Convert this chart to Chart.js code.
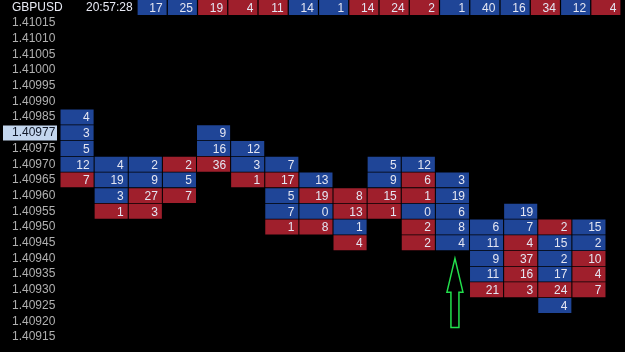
<!DOCTYPE html>
<html>
<head>
<meta charset="utf-8">
<script src="https://cdn.jsdelivr.net/npm/chart.js@4/dist/chart.umd.min.js"></script>
<style>
  body { margin: 0; background: #000; overflow: hidden; }
  #wrap { position: relative; width: 625px; height: 352px; }
  #main { position: absolute; left: 0; top: 0; }
  #head { position: absolute; left: 137px; top: 0; }
  .txt { position: absolute; top: 0; height: 15px; line-height: 15px; font: 12px "Liberation Sans", Arial, sans-serif; color: #e8eaf4; }
</style>
</head>
<body>
<div id="wrap">
  <canvas id="main" width="625" height="352"></canvas>
  <canvas id="head" width="484" height="15"></canvas>
  <div class="txt" style="left:12px">GBPUSD</div>
  <div class="txt" style="left:86px">20:57:28</div>
</div>
<script>
// price ladder, top to bottom (1.40977 = current price, shown in the 1.40980 slot)
var priceLabels = ['1.41015', '1.41010', '1.41005', '1.41000', '1.40995', '1.40990', '1.40985', '1.40977',
	'1.40975', '1.40970', '1.40965', '1.40960', '1.40955', '1.40950', '1.40945', '1.40940',
	'1.40935', '1.40930', '1.40925', '1.40920', '1.40915'];
var currentRow = 7;

// top price of each column, then volumes downwards, b = buy (blue) r = sell (red)
var colTop = ['1.40985', '1.40970', '1.40970', '1.40970', '1.40977', '1.40975', '1.40970', '1.40965',
	'1.40960', '1.40970', '1.40970', '1.40965', '1.40950', '1.40955', '1.40950', '1.40950'];
var colVolume = [
	[4, 3, 5, 12, 7],
	[4, 19, 3, 1],
	[2, 9, 27, 3],
	[2, 5, 7],
	[9, 16, 36],
	[12, 3, 1],
	[7, 17, 5, 7, 1],
	[13, 19, 0, 8],
	[8, 13, 1, 4],
	[5, 9, 15, 1],
	[12, 6, 1, 0, 2, 2],
	[3, 19, 6, 8, 4],
	[6, 11, 9, 11, 21],
	[19, 7, 4, 37, 16, 3],
	[2, 15, 2, 17, 24, 4],
	[15, 2, 10, 4, 7]
];
var colSide = ['bbbbr', 'bbbr', 'bbrr', 'rbr', 'bbr', 'bbr', 'brbbr', 'brbr',
	'rrbr', 'bbrr', 'brrbrr', 'bbbbb', 'bbbbr', 'bbrrrr', 'rbbbrb', 'bbrrr'];

// header strip
var headVolume = [17, 25, 19, 4, 11, 14, 1, 14, 24, 2, 1, 40, 16, 34, 12, 4];
var headSide = 'bbrrrbbrrrbbbrbr';

var BLUE = '#1f4597';
var RED = '#9f1f2c';
var sideColor = function(s) { return s === 'b' ? BLUE : RED; };

var colLabels = colTop.map(function(v, i) { return 'C' + (i + 1); });

var cells = [], cellVals = [], cellColors = [];
colTop.forEach(function(top, c) {
	var start = priceLabels.indexOf(top);
	colVolume[c].forEach(function(v, k) {
		var row = start + k;
		cells.push({ x: colLabels[c], y: [row - 0.475, row + 0.475] });
		cellVals.push(v);
		cellColors.push(sideColor(colSide[c][k]));
	});
});

// draws the volume numbers inside every bar
var cellText = {
	id: 'cellText',
	afterDatasetsDraw: function(chart) {
		var ctx = chart.ctx;
		var meta = chart.getDatasetMeta(0);
		var vals = chart.data.datasets[0].volumes;
		ctx.save();
		ctx.font = '12px "Liberation Sans", Arial, sans-serif';
		ctx.fillStyle = '#e4e6f2';
		ctx.textAlign = 'right';
		ctx.textBaseline = 'middle';
		meta.data.forEach(function(bar, i) {
			var p = bar.getProps(['x', 'y', 'base', 'width'], true);
			ctx.fillText(vals[i], p.x + p.width / 2 - 4, (p.y + p.base) / 2 + 1);
		});
		ctx.restore();
	}
};

// light box behind the current price label
var priceBox = {
	id: 'priceBox',
	beforeDraw: function(chart) {
		var y = chart.scales.y.getPixelForValue(currentRow);
		var ctx = chart.ctx;
		ctx.save();
		ctx.fillStyle = '#c3d6ee';
		ctx.fillRect(3, Math.round(y) - 7.5, 54, 15);
		ctx.restore();
	}
};

// green outline arrow under column 12
var arrowCol = 11, arrowTipRow = 15, arrowNeckRow = 17.15, arrowEndRow = 19.4;
var arrowPlugin = {
	id: 'arrow',
	afterDatasetsDraw: function(chart) {
		var ctx = chart.ctx;
		var x = chart.scales.x.getPixelForValue(arrowCol) + 2.5;
		var yS = chart.scales.y;
		var tip = yS.getPixelForValue(arrowTipRow), neck = yS.getPixelForValue(arrowNeckRow), end = yS.getPixelForValue(arrowEndRow);
		ctx.save();
		ctx.strokeStyle = '#22e04c';
		ctx.lineWidth = 1.5;
		ctx.beginPath();
		ctx.moveTo(x, tip);
		ctx.lineTo(x + 8, neck);
		ctx.lineTo(x + 4, neck);
		ctx.lineTo(x + 4, end);
		ctx.lineTo(x - 4, end);
		ctx.lineTo(x - 4, neck);
		ctx.lineTo(x - 8, neck);
		ctx.closePath();
		ctx.stroke();
		ctx.restore();
	}
};

new Chart(document.getElementById('main'), {
	type: 'bar',
	data: {
		labels: colLabels,
		datasets: [{
			data: cells,
			volumes: cellVals,
			backgroundColor: cellColors,
			borderWidth: 0,
			barPercentage: 0.97,
			categoryPercentage: 1
		}]
	},
	options: {
		responsive: false,
		animation: false,
		devicePixelRatio: 1,
		layout: { padding: { left: 12, right: 19, top: 15, bottom: 7 } },
		plugins: { legend: { display: false }, tooltip: { enabled: false } },
		scales: {
			x: { display: false },
			y: {
				reverse: true,
				min: -0.5,
				max: 20.5,
				grid: { display: false },
				border: { display: false },
				afterFit: function(scale) { scale.width = 48; },
				afterBuildTicks: function(scale) {
					scale.ticks = priceLabels.map(function(l, i) { return { value: i }; });
				},
				ticks: {
					autoSkip: false,
					crossAlign: 'far',
					padding: 0,
					font: { family: '"Liberation Sans", Arial, sans-serif', size: 12 },
					color: function(c) { return c.index === currentRow ? '#101828' : '#b0b0b0'; },
					callback: function(v, i) { return priceLabels[i]; }
				}
			}
		}
	},
	plugins: [priceBox, cellText, arrowPlugin]
});

new Chart(document.getElementById('head'), {
	type: 'bar',
	data: {
		labels: headVolume.map(function(v, i) { return 'H' + (i + 1); }),
		datasets: [{
			data: headVolume.map(function() { return [0, 1]; }),
			volumes: headVolume,
			backgroundColor: headVolume.map(function(v, i) { return sideColor(headSide[i]); }),
			borderWidth: 0,
			barPercentage: 0.96,
			categoryPercentage: 1
		}]
	},
	options: {
		responsive: false,
		animation: false,
		devicePixelRatio: 1,
		layout: { padding: 0 },
		plugins: { legend: { display: false }, tooltip: { enabled: false } },
		scales: {
			x: { display: false },
			y: { display: false, min: 0, max: 1 }
		}
	},
	plugins: [cellText]
});
</script>
</body>
</html>
